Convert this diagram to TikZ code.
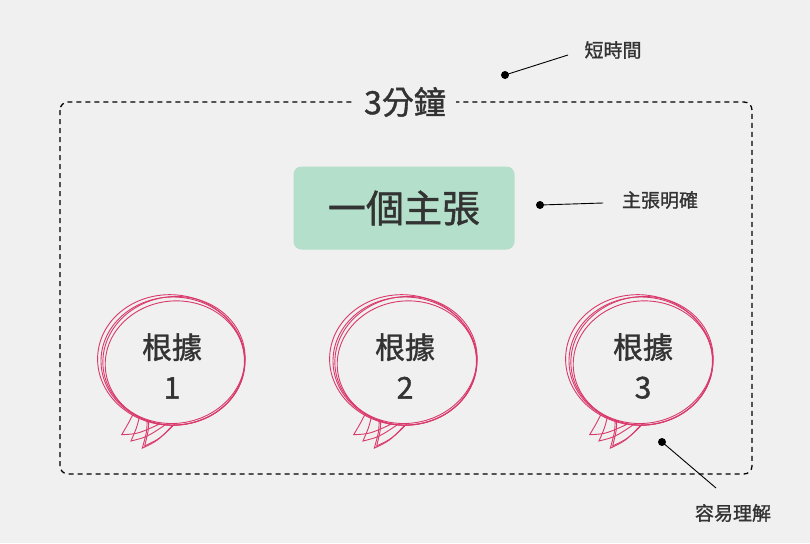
\documentclass[tikz,border=0pt]{standalone}
\usepackage{fontspec}
\setmainfont{Noto Sans CJK TC}
\newfontfamily\medfont[FakeBold=1.2]{Noto Sans CJK TC}
\definecolor{bg}{HTML}{F0F0F0}
\definecolor{grn}{HTML}{B4DFCA}
\definecolor{pnk}{HTML}{D93A6B}
\definecolor{txt}{HTML}{333333}
\tikzset{
  lbl/.style={font=\medfont\fontsize{19}{22}\selectfont, text=txt},
  ann/.style={line width=0.9pt, black},
  bub/.style={draw=pnk, line width=0.9pt},
  btxt/.style={font=\medfont\fontsize{30}{40}\selectfont, text=txt, align=center}
}
\newcommand{\mybubble}[2]{%
  \foreach \dx/\dy/\r/\s/\tx in {0/0/0/1/0, 2/-2/5/0.97/2, -2/1/-4/1.02/-2, 1/1/8/0.99/1}{
    \draw[bub, shift={(#1,#2)}, xshift=\dx pt, yshift=\dy pt, rotate=\r]
      (96:{72*\s} and {64*\s})
      arc[start angle=96, end angle=478, x radius={72*\s}, y radius={64*\s}]
      .. controls ({-36+\tx},66) .. ({-42+\tx},{80+\tx})
      .. controls ({-26+\tx},76) .. (-8,{64*\s});
  }}
\begin{document}
\begin{tikzpicture}[x=1pt,y=-1pt]
\fill[bg] (0,0) rectangle (810,543);
\useasboundingbox (0,0) rectangle (810,543);
\draw[line width=1.3pt, rounded corners=8pt, dash pattern=on 5pt off 4pt] (60,102) rectangle (752,474);
\node[fill=bg, font=\medfont\fontsize{32}{36}\selectfont, text=txt, inner xsep=10pt] (t) at (405,102) {3分鐘};
\node[fill=grn, rounded corners=8pt, minimum width=221pt, minimum height=83pt, font=\medfont\fontsize{38}{44}\selectfont, text=txt] (g) at (404,208) {一個主張};
\mybubble{173}{361}
\mybubble{405}{361}
\mybubble{641}{361}
\node[btxt] (b1) at (172,366) {根據\\1};
\node[btxt] (b2) at (405,366) {根據\\2};
\node[btxt] (b3) at (643,366) {根據\\3};
\fill (505,75) circle (4pt) coordinate (d1);
\node[lbl] (l1) at (613,50) {短時間};
\draw[ann] (d1) -- (568,55);
\fill (540,205) circle (4pt) coordinate (d2);
\node[lbl] (l2) at (660,200) {主張明確};
\draw[ann] (d2) -- (603,203);
\fill (662,442) circle (4pt) coordinate (d3);
\node[lbl] (l3) at (733,513) {容易理解};
\draw[ann] (d3) -- (716,488);
\end{tikzpicture}
\end{document}
